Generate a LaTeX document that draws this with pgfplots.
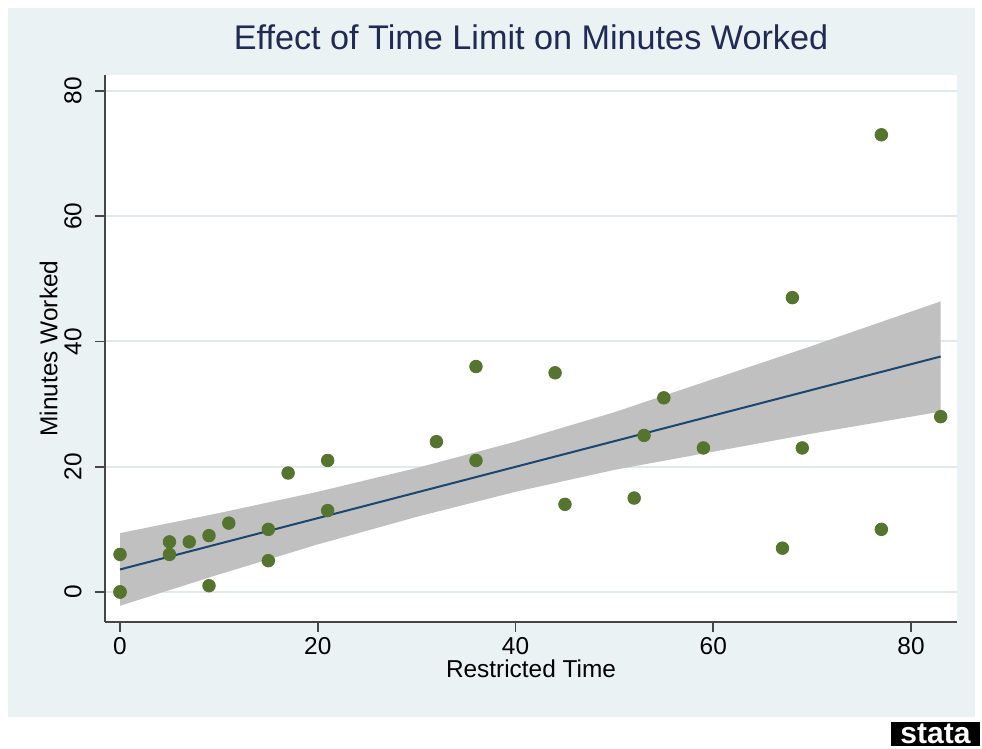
\documentclass[border=0pt]{standalone}
\usepackage{fontspec}
\setmainfont{Liberation Sans}
\usepackage{pgfplots}
\pgfplotsset{compat=1.18}
\definecolor{stbg}{RGB}{234,242,243}
\definecolor{stgrid}{RGB}{224,234,237}
\definecolor{stgreen}{RGB}{85,117,47}
\definecolor{stnavy}{RGB}{26,71,111}
\definecolor{sttitle}{RGB}{32,42,84}
\definecolor{stband}{RGB}{192,192,192}
\definecolor{staxis}{RGB}{70,70,70}

\begin{document}
\begin{tikzpicture}
% page and outer graph region (1px = 0.5pt, origin at lower left of plot region)
\fill[white] (-52.5pt,-63.5pt) rectangle (438.5pt,311pt);
\fill[stbg] (-48.5pt,-47.5pt) rectangle (435pt,307pt);
\begin{axis}[
  at={(0,0)}, anchor=south west,
  scale only axis, width=426pt, height=273.5pt,
  xmin=-1.52, xmax=84.65, ymin=-4.79, ymax=82.55,
  xtick={0,20,40,60,80}, ytick={0,20,40,60,80},
  axis lines*=left, axis line style={-, staxis, line width=0.8pt},
  major tick style={staxis, line width=0.8pt},
  tick align=outside, major tick length=5pt,
  axis background/.style={fill=white},
  ymajorgrids, grid style={stgrid, line width=1pt},
  /pgf/number format/assume math mode=true,
  tick label style={font=\fontsize{12.2}{14}\selectfont, inner sep=0pt},
  xticklabel shift=2.5pt,
  yticklabel style={rotate=90, anchor=south},
  yticklabel shift=6.5pt,
  xlabel={Restricted Time}, ylabel={Minutes Worked},
  label style={font=\fontsize{12.2}{14}\selectfont, inner sep=0pt},
  xlabel style={at={(axis description cs:0.5,-0.0676)}, anchor=north},
  ylabel style={at={(axis description cs:-0.0552,0.5)}, anchor=south, rotate=0},
  title={Effect of Time Limit on Minutes Worked},
  title style={at={(axis description cs:0.5,1.0238)}, anchor=south, inner sep=0pt,
    font=\fontsize{17.1}{20}\selectfont, text=sttitle},
  clip=true,
]
% 95% confidence band of the linear fit (upper edge, then lower edge back)
\addplot[fill=stband, draw=none] coordinates {
  (0,9.4)(10,12.6)(20,16.0)(30,19.8)(40,24.0)(50,28.7)(60,34.0)(70,39.3)(83,46.4)
  (83,28.8)(70,25.3)(60,22.4)(50,19.5)(40,16.0)(30,12.0)(20,7.6)(10,2.8)(0,-2.2)} -- cycle;
% fitted line
\addplot[stnavy, line width=1pt] coordinates {(0,3.6)(83,37.6)};
% observations
\addplot[only marks, mark=*, mark size=3.15pt, stgreen, mark options={draw=stgreen, fill=stgreen}] coordinates {
  (0,6)(0,0)(0,0)(5,8)(5,6)(7,8)(9,9)(9,1)(11,11)(15,10)(15,5)(17,19)
  (21,21)(21,13)(32,24)(36,36)(36,21)(44,35)(45,14)(52,15)(53,25)(55,31)
  (59,23)(67,7)(68,47)(69,23)(77,73)(77,10)(83,28)};
\end{axis}
% Stata logo
\node[fill=black, text=white, inner sep=0pt, minimum width=44.5pt, minimum height=12pt,
  font=\fontsize{15}{15}\selectfont\bfseries] at (415.25pt,-56pt) {stata};
\end{tikzpicture}
\end{document}
